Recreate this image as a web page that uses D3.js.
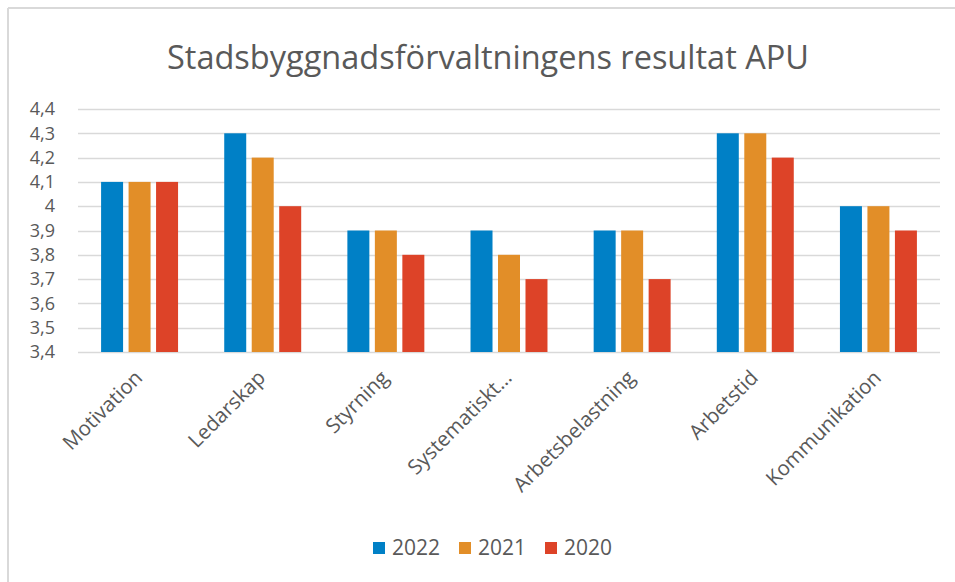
<!DOCTYPE html>
<html>
<head>
<meta charset="utf-8">
<title>Stadsbyggnadsförvaltningens resultat APU</title>
<style>
  body { margin: 0; background: #fff; }
  svg text { font-family: "Open Sans", sans-serif; fill: #595959; }
  .grid line { stroke: #d9d9d9; stroke-width: 1.5; }
</style>
<script src="https://d3js.org/d3.v7.min.js"></script>
</head>
<body>
<script>
// data
var categories = ["Motivation", "Ledarskap", "Styrning", "Systematiskt…", "Arbetsbelastning", "Arbetstid", "Kommunikation"];
var seriesNames = ["2022", "2021", "2020"];
var values2022 = [4.1, 4.3, 3.9, 3.9, 3.9, 4.3, 4.0];
var values2021 = [4.1, 4.2, 3.9, 3.8, 3.9, 4.3, 4.0];
var values2020 = [4.1, 4.0, 3.8, 3.7, 3.7, 4.2, 3.9];
var yTicks = [3.4, 3.5, 3.6, 3.7, 3.8, 3.9, 4.0, 4.1, 4.2, 4.3, 4.4];
var colors = ["#0080c6", "#e28e28", "#dd4328"];

var allValues = [values2022, values2021, values2020];
var width = 955, height = 582;
var plotLeft = 78, plotRight = 940, plotTop = 109, plotBottom = 352;

var svg = d3.select("body").append("svg")
    .attr("width", width).attr("height", height);

// chart border (only left and top edges are visible)
svg.append("line").attr("x1", 8).attr("x2", 8).attr("y1", 8).attr("y2", height)
    .attr("stroke", "#d9d9d9").attr("stroke-width", 2);
svg.append("line").attr("x1", 8).attr("x2", width).attr("y1", 8).attr("y2", 8)
    .attr("stroke", "#d9d9d9").attr("stroke-width", 2);

svg.append("text")
    .attr("x", 488).attr("y", 69)
    .attr("text-anchor", "middle")
    .style("font-size", "32.5px")
    .text("Stadsbyggnadsförvaltningens resultat APU");

var x0 = d3.scaleBand().domain(categories).range([plotLeft, plotRight])
    .paddingInner(0.375).paddingOuter(0.1875);
var x1 = d3.scaleBand().domain(seriesNames).range([0, x0.bandwidth()])
    .paddingInner(0.2);
var y = d3.scaleLinear().domain([3.4, 4.4]).range([plotBottom, plotTop]);

var fmt = function(d) { return d3.format(".1f")(d).replace(".", ",").replace(",0", ""); };

// gridlines
svg.append("g").attr("class", "grid")
  .selectAll("line").data(yTicks).enter().append("line")
    .attr("x1", plotLeft).attr("x2", plotRight)
    .attr("y1", function(d) { return Math.round(y(d)) + 0.5; })
    .attr("y2", function(d) { return Math.round(y(d)) + 0.5; });

// y axis labels
var yAxis = svg.append("g")
    .attr("transform", "translate(" + (plotLeft - 10) + ",0)")
    .call(d3.axisLeft(y).tickValues(yTicks).tickFormat(fmt).tickSize(0).tickPadding(13));
yAxis.select(".domain").remove();
yAxis.selectAll("text").style("font-size", "18px").attr("fill", "#595959")
    .style("font-family", "'Open Sans', sans-serif");

// bars
var groups = svg.append("g").selectAll("g").data(categories).enter().append("g")
    .attr("transform", function(d) { return "translate(" + x0(d) + ",0)"; });
groups.selectAll("rect")
  .data(function(d, i) {
      return seriesNames.map(function(s, j) { return {s: s, j: j, v: allValues[j][i]}; });
  })
  .enter().append("rect")
    .attr("x", function(d) { return x1(d.s); })
    .attr("width", x1.bandwidth())
    .attr("y", function(d) { return y(d.v); })
    .attr("height", function(d) { return y(3.4) - y(d.v); })
    .attr("fill", function(d) { return colors[d.j]; });

// x axis labels, rotated
var xAxis = svg.append("g")
    .attr("transform", "translate(0," + plotBottom + ")")
    .call(d3.axisBottom(x0).tickSize(0).tickPadding(0));
xAxis.select(".domain").remove();
xAxis.selectAll("text")
    .style("font-size", "20.5px").attr("fill", "#595959")
    .style("font-family", "'Open Sans', sans-serif")
    .attr("text-anchor", "end")
    .attr("dy", null).attr("y", 0)
    .attr("transform", "translate(4,27) rotate(-45)");

// legend
var legendX = [373, 459, 545];
var legend = svg.append("g").selectAll("g").data(seriesNames).enter().append("g")
    .attr("transform", function(d, i) { return "translate(" + legendX[i] + ",542)"; });
legend.append("rect").attr("width", 12).attr("height", 12)
    .attr("fill", function(d, i) { return colors[i]; });
legend.append("text").attr("x", 19).attr("y", 13)
    .style("font-size", "21px")
    .text(function(d) { return d; });
</script>
</body>
</html>
